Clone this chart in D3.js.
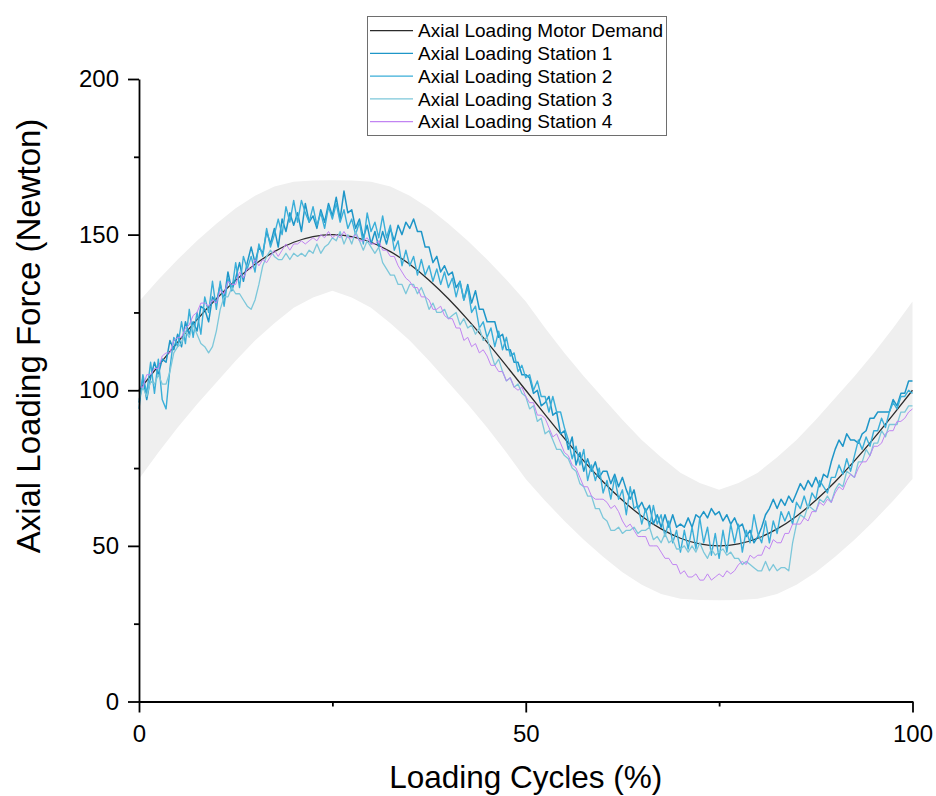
<!DOCTYPE html>
<html>
<head>
<meta charset="utf-8">
<script src="https://cdn.jsdelivr.net/npm/d3@7"></script>
<style>
  html, body { margin: 0; padding: 0; background: #fff; }
  svg { display: block; }
  text { font-family: "Liberation Sans", Arial, Helvetica, sans-serif; fill: #000; }
</style>
</head>
<body>
<svg id="chart" width="936" height="796"></svg>
<script>
// ---- data -------------------------------------------------------------
const seriesNames = [
  "Axial Loading Motor Demand",
  "Axial Loading Station 1",
  "Axial Loading Station 2",
  "Axial Loading Station 3",
  "Axial Loading Station 4"
];
const seriesColors = ["#2b2b2b", "#1e96c8", "#3aaed8", "#7cc7da", "#c184f2"];

// motor demand and its tolerance band, sampled every 2.5 % of the cycle
const coarseStep = 2.5;
const demand = [100, 107.82, 115.45, 122.70, 129.39, 135.36, 140.45, 144.55, 147.55, 149.38,
  150, 149.38, 147.55, 144.55, 140.45, 135.36, 129.39, 122.70, 115.45, 107.82,
  100, 92.18, 84.55, 77.30, 70.61, 64.64, 59.55, 55.45, 52.45, 50.62,
  50, 50.62, 52.45, 55.45, 59.55, 64.64, 70.61, 77.30, 84.55, 92.18, 100];
const bandUpper = [128.5, 135.5, 142, 148, 153.5, 158.5, 162.5, 165.5, 167, 167.4,
  167.5, 167.4, 167, 165.5, 162.5, 158.5, 153.5, 148, 142, 135.5,
  128.5, 120, 112, 104.5, 97.5, 90.5, 84, 78.5, 73.5, 70.2,
  68, 70.2, 73.5, 78.5, 84, 90.5, 97.5, 104.5, 112, 120, 128.5];
const bandLower = [71.5, 80, 88, 95.5, 102.5, 109.5, 116, 121.5, 126.5, 129.8,
  132, 129.8, 126.5, 121.5, 116, 109.5, 102.5, 95.5, 88, 80,
  71.5, 64.5, 58, 52, 46.5, 41.5, 37.5, 34.5, 33, 32.6,
  32.5, 32.6, 33, 34.5, 37.5, 41.5, 46.5, 52, 58, 64.5, 71.5];

// measured station forces, sampled every 0.5 % of the cycle
const fineStep = 0.5;
const station1 = [96, 104, 97, 104, 109, 105, 110, 109, 116, 113, 118,
  114, 122, 118, 122, 119, 127, 126, 122, 130, 128,
  134, 129, 138, 132, 136, 141, 135, 141, 146, 141,
  146, 144, 151, 147, 152, 146, 155, 151, 157, 153,
  157, 151, 160, 154, 156, 152, 158, 154, 160, 156,
  162, 155, 164, 157, 158, 152, 155, 149, 153, 147,
  151, 146, 151, 147, 152, 148, 153, 150, 154, 152,
  155, 151, 151, 146, 146, 141, 143, 138, 140, 137,
  138, 133, 135, 129, 134, 128, 132, 126, 126, 122,
  122, 122, 117, 118, 113, 113, 109, 109, 105, 105,
  104, 99, 100, 95, 96, 98, 92, 93, 86, 87,
  81, 85, 76, 80, 74, 78, 74, 77, 72, 74,
  74, 70, 73, 69, 72, 68, 65, 68, 62, 64,
  61, 63, 57, 60, 56, 60, 56, 60, 56, 57,
  56, 59, 56, 60, 59, 61, 59, 62, 60, 61,
  58, 60, 57, 59, 56, 57, 53, 55, 51, 53,
  56, 60, 62, 65, 62, 65, 63, 66, 64, 67,
  70, 68, 71, 69, 72, 69, 73, 72, 77, 81,
  84, 82, 86, 84, 84, 83, 86, 87, 91, 91,
  93, 93, 93, 93, 97, 95, 99, 99, 103, 103];
const station2 = [94, 105, 99, 109, 99, 110, 97, 94, 107, 117, 114,
  122, 115, 126, 117, 125, 118, 130, 125, 135, 126,
  135, 127, 136, 132, 141, 133, 143, 139, 143, 138,
  147, 143, 152, 146, 150, 155, 150, 159, 154, 161,
  154, 161, 157, 154, 159, 153, 157, 152, 159, 155,
  160, 154, 158, 152, 155, 150, 154, 147, 157, 151,
  154, 149, 156, 149, 153, 145, 148, 140, 145, 140,
  143, 137, 142, 137, 140, 135, 139, 134, 138, 133,
  136, 130, 135, 129, 133, 125, 127, 120, 122, 117,
  120, 114, 119, 113, 117, 111, 112, 106, 108, 104,
  105, 100, 103, 98, 98, 93, 98, 93, 93, 88,
  84, 78, 82, 76, 81, 71, 76, 71, 75, 67,
  71, 65, 72, 65, 68, 60, 69, 62, 63, 57,
  62, 56, 63, 57, 60, 53, 58, 51, 55, 48,
  55, 49, 56, 49, 59, 51, 56, 47, 54, 46,
  55, 48, 57, 51, 57, 48, 55, 51, 60, 54,
  51, 58, 51, 58, 54, 61, 58, 61, 57, 64,
  62, 66, 62, 67, 65, 71, 69, 67, 72, 72,
  76, 73, 78, 74, 79, 84, 81, 85, 82, 87,
  87, 91, 88, 93, 96, 94, 98, 98, 100, 99];
const station3 = [97, 101, 98, 103, 102, 105, 102, 102, 106, 112, 114,
  115, 119, 117, 121, 118, 115, 114, 112, 114, 119,
  126, 130, 130, 133, 131, 131, 129, 127, 126, 129,
  134, 140, 143, 145, 143, 142, 142, 144, 142, 144,
  143, 144, 143, 145, 144, 147, 144, 146, 147, 149,
  148, 151, 147, 150, 147, 151, 148, 145, 148, 146,
  144, 146, 141, 139, 137, 137, 134, 134, 131, 134,
  134, 131, 133, 130, 126, 128, 125, 125, 126, 123,
  124, 125, 121, 123, 120, 121, 118, 120, 116, 117,
  112, 108, 110, 106, 103, 104, 101, 102, 99, 98,
  94, 95, 90, 91, 86, 87, 84, 81, 81, 79,
  78, 75, 74, 70, 69, 66, 66, 62, 62, 59,
  58, 55, 55, 56, 54, 55, 55, 56, 54, 55,
  55, 56, 52, 53, 51, 54, 51, 52, 49, 49,
  50, 48, 50, 48, 51, 48, 46, 49, 47, 48,
  49, 47, 48, 46, 46, 44, 45, 44, 43, 42,
  42, 45, 42, 44, 42, 43, 43, 42, 51, 57,
  60, 59, 63, 62, 61, 65, 64, 66, 64, 68,
  70, 69, 74, 73, 72, 77, 77, 81, 79, 83,
  83, 87, 85, 89, 89, 89, 93, 93, 95, 95];
const station4 = [101, 101, 105, 105, 107, 107, 111, 112, 112, 116, 117,
  117, 120, 121, 124, 125, 128, 128, 127, 129, 128,
  132, 131, 135, 134, 134, 138, 136, 139, 139, 142,
  140, 142, 141, 143, 145, 143, 145, 147, 145, 147,
  147, 148, 147, 148, 149, 148, 150, 149, 151, 149,
  150, 149, 151, 149, 149, 150, 148, 148, 149, 147,
  147, 148, 145, 145, 143, 143, 140, 138, 136, 135,
  133, 133, 130, 130, 129, 126, 126, 127, 124, 123,
  123, 120, 120, 116, 117, 114, 115, 112, 113, 111,
  108, 108, 106, 106, 103, 104, 101, 100, 101, 98,
  96, 96, 92, 92, 91, 88, 85, 86, 83, 80,
  79, 76, 75, 72, 69, 69, 66, 65, 65, 65,
  64, 62, 63, 61, 58, 56, 57, 55, 53, 53,
  53, 50, 50, 50, 48, 46, 46, 44, 44, 41,
  42, 40, 40, 41, 39, 39, 41, 39, 40, 41,
  40, 42, 41, 42, 44, 45, 44, 47, 46, 47,
  47, 50, 49, 52, 51, 51, 54, 54, 57, 57,
  57, 59, 58, 61, 61, 64, 63, 65, 64, 67,
  69, 68, 71, 73, 72, 75, 77, 77, 79, 82,
  82, 83, 86, 87, 87, 90, 90, 91, 93, 94];

const xMajorTicks = [0, 50, 100];
const xMinorTicks = [25, 75];
const yMajorTicks = [0, 50, 100, 150, 200];
const yMinorTicks = [25, 75, 125, 175];
const xTitle = "Loading Cycles (%)";
const yTitle = "Axial Loading Force (Newton)";

// ---- chart -----------------------------------------------------------
const svg = d3.select("#chart");
const x = d3.scaleLinear().domain([0, 100]).range([139, 912.5]);
const y = d3.scaleLinear().domain([0, 200]).range([701.5, 79]);

// tolerance band
const bandRows = bandUpper.map((u, i) => ({ x: i * coarseStep, hi: u, lo: bandLower[i] }));
svg.append("path")
  .datum(bandRows)
  .attr("fill", "#efefef")
  .attr("d", d3.area().x(d => x(d.x)).y0(d => y(d.lo)).y1(d => y(d.hi)).curve(d3.curveLinear));

// demand curve
const demandRows = demand.map((v, i) => ({ x: i * coarseStep, v }));
svg.append("path")
  .datum(demandRows)
  .attr("fill", "none")
  .attr("stroke", seriesColors[0])
  .attr("stroke-width", 1.3)
  .attr("d", d3.line().x(d => x(d.x)).y(d => y(d.v)).curve(d3.curveNatural));

// station traces
const stations = [station1, station2, station3, station4];
const stationWidths = [1.5, 1.4, 1.3, 1.0];
const line = d3.line().x(d => x(d.x)).y(d => y(d.v));
stations.forEach((vals, k) => {
  svg.append("path")
    .datum(vals.map((v, i) => ({ x: i * fineStep, v })))
    .attr("fill", "none")
    .attr("stroke", seriesColors[k + 1])
    .attr("stroke-width", stationWidths[k])
    .attr("stroke-linejoin", "round")
    .attr("d", line);
});

// axes
function styleAxis(g) {
  g.selectAll("path.domain").attr("stroke", "#000").attr("stroke-width", 1.8);
  g.selectAll(".tick line").attr("stroke", "#000").attr("stroke-width", 1.8);
  g.selectAll(".tick text").style("font-size", "24px").attr("fill", "#000");
}
const gx = svg.append("g").attr("transform", `translate(0,${y(0)})`)
  .call(d3.axisBottom(x).tickValues(xMajorTicks).tickSize(11).tickSizeOuter(0)
    .tickPadding(12).tickFormat(d3.format("d")));
styleAxis(gx);
const gxm = svg.append("g").attr("transform", `translate(0,${y(0)})`)
  .call(d3.axisBottom(x).tickValues(xMinorTicks).tickSize(5).tickSizeOuter(0).tickFormat(""));
gxm.select("path.domain").remove();
styleAxis(gxm);

const gy = svg.append("g").attr("transform", `translate(${x(0)},0)`)
  .call(d3.axisLeft(y).tickValues(yMajorTicks).tickSize(11).tickSizeOuter(0)
    .tickPadding(9).tickFormat(d3.format("d")));
styleAxis(gy);
const gym = svg.append("g").attr("transform", `translate(${x(0)},0)`)
  .call(d3.axisLeft(y).tickValues(yMinorTicks).tickSize(5).tickSizeOuter(0).tickFormat(""));
gym.select("path.domain").remove();
styleAxis(gym);

// axis titles
svg.append("text")
  .attr("x", x(50)).attr("y", 788)
  .attr("text-anchor", "middle")
  .style("font-size", "31.5px")
  .text(xTitle);
svg.append("text")
  .attr("transform", "translate(40,336) rotate(-90)")
  .attr("text-anchor", "middle")
  .style("font-size", "33px")
  .text(yTitle);

// legend
const legend = svg.append("g");
legend.append("rect")
  .attr("x", 367.5).attr("y", 16.5).attr("width", 299).attr("height", 119)
  .attr("fill", "#fff").attr("stroke", "#6e6e6e").attr("stroke-width", 1);
seriesNames.forEach((name, i) => {
  const cy = 30.7 + i * 22.75;
  legend.append("line")
    .attr("x1", 370).attr("x2", 413).attr("y1", cy).attr("y2", cy)
    .attr("stroke", seriesColors[i]).attr("stroke-width", i === 0 ? 1.3 : 1.2);
  legend.append("text")
    .attr("x", 418).attr("y", cy).attr("dy", "0.35em")
    .style("font-size", "19px")
    .text(name);
});
</script>
</body>
</html>
